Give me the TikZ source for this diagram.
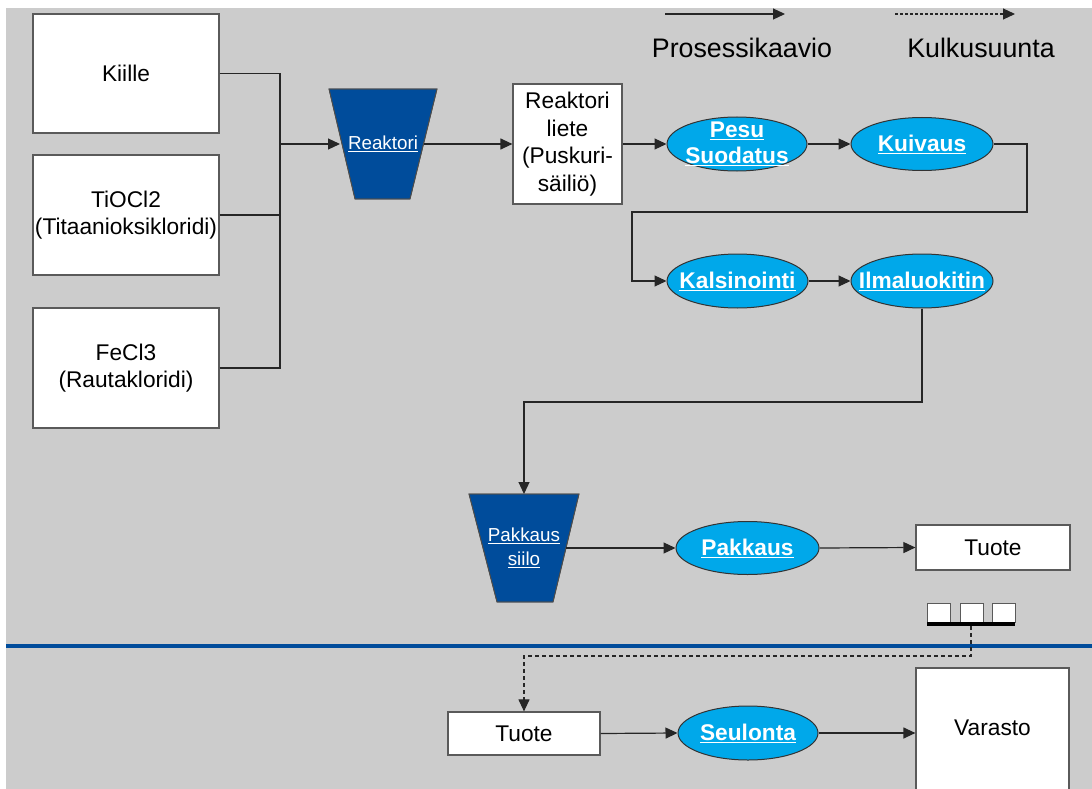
\documentclass[tikz,border=0pt]{standalone}
\usepackage{fontspec}
\setmainfont{Liberation Sans}
\usetikzlibrary{arrows.meta,shapes.geometric}
\definecolor{bggray}{RGB}{204,204,204}
\definecolor{darkblue}{RGB}{0,76,155}
\definecolor{cyanblue}{RGB}{0,168,234}
\definecolor{edgegray}{RGB}{90,90,90}
\tikzset{
  whitebox/.style={draw=edgegray, line width=1.2pt, fill=white, inner sep=0pt, align=center,
    font=\fontsize{22.7}{27.5}\selectfont},
  procell/.style={ellipse, draw=black!80, line width=1pt, fill=cyanblue, inner sep=0pt},
  proctext/.style={text=white, align=center, inner sep=0pt, font=\bfseries\fontsize{22.7}{26}\selectfont},
  hopper/.style={fill=darkblue, draw=black!70, line width=0.8pt},
  hoppertext/.style={text=white, align=center, font=\fontsize{18.8}{24}\selectfont},
  conn/.style={draw=black!85, line width=1.2pt},
  arr/.style={conn, -{Triangle[length=12pt,width=11pt]}},
  darr/.style={draw=black!85, line width=1.1pt, dash pattern=on 3pt off 2pt, -{Triangle[length=12pt,width=11pt]}},
  legtext/.style={font=\fontsize{26.8}{30}\selectfont},
  pallbox/.style={draw=edgegray, line width=1pt, fill=white, minimum width=23pt, minimum height=19pt, inner sep=0pt}
}
\begin{document}
\begin{tikzpicture}[x=1pt,y=-1pt]
\useasboundingbox (0,0) rectangle (1092,789);
\clip (0,0) rectangle (1092,789);
\fill[white] (0,0) rectangle (1092,789);
\fill[bggray] (6,8) rectangle (1092,789);

% legend
\coordinate (la) at (665,14); \coordinate (lb) at (785,14);
\coordinate (lc) at (895,14); \coordinate (ld) at (1015,14);
\draw[arr] (la) -- (lb);
\draw[darr] (lc) -- (ld);
\node[legtext] (leg1) at (742,48) {Prosessikaavio};
\node[legtext] (leg2) at (981,48) {Kulkusuunta};

% raw material boxes
\node[whitebox, minimum width=186pt, minimum height=119pt] (kiille) at (126,73.5) {Kiille};
\node[whitebox, minimum width=186pt, minimum height=120pt] (tiocl) at (126,215) {TiOCl2\\(Titaanioksikloridi)};
\node[whitebox, minimum width=186pt, minimum height=120pt] (fecl) at (126,368) {FeCl3\\(Rautakloridi)};

% reactor hopper
\fill[hopper] (329,89) -- (437,89) -- (410,199) -- (355,199) -- cycle;
\draw[draw=black!70, line width=0.8pt] (329,89) -- (437,89) -- (410,199) -- (355,199) -- cycle;
\node[hoppertext] (reak) at (383,144) {\underline{Reaktori}};
\coordinate (reakL) at (340,144);
\coordinate (reakR) at (424,144);

\coordinate (bus) at (280,144);
\draw[conn] (kiille.east) -| (bus);
\draw[conn] (fecl.east) -| (bus);
\draw[conn] (tiocl.east) -- (tiocl.east -| bus);
\draw[arr] (bus) -- (reakL);

\node[whitebox, minimum width=109pt, minimum height=120pt] (liete) at (567.5,144) {Reaktori\\liete\\(Puskuri-\\säiliö)};
\draw[arr] (reakR) -- (liete.west);

\node[procell, minimum width=140pt, minimum height=54pt] (pesu) at (737,144) {};
\node[proctext] (pesuT) at (pesu.center) {\underline{Pesu}\\\underline{Suodatus}};
\node[procell, minimum width=142pt, minimum height=53pt] (kuiv) at (922,144) {};
\node[proctext] (kuivT) at (kuiv.center) {\underline{Kuivaus}};
\draw[arr] (liete.east) -- (pesu.west);
\draw[arr] (pesu.east) -- (kuiv.west);

\node[procell, minimum width=141pt, minimum height=54pt] (kals) at (737.5,281) {};
\node[proctext] (kalsT) at (kals.center) {\underline{Kalsinointi}};
\node[procell, minimum width=142pt, minimum height=54pt] (ilma) at (922,281) {};
\node[proctext] (ilmaT) at (ilma.center) {\underline{Ilmaluokitin}};
\coordinate (t1) at (1027,212);
\coordinate (t2) at (632,212);
\draw[arr] (kuiv.east) -| (t1) -- (t2) |- (kals.west);
\draw[arr] (kals.east) -- (ilma.west);

% packing silo
\fill[hopper] (469,494) -- (579,494) -- (553,602) -- (497,602) -- cycle;
\draw[draw=black!70, line width=0.8pt] (469,494) -- (579,494) -- (553,602) -- (497,602) -- cycle;
\node[hoppertext] (siilo) at (524,548) {\underline{Pakkaus}\\\underline{siilo}};
\coordinate (siiloT) at (524,494);
\coordinate (siiloR) at (566,548);
\coordinate (t3) at (524,402);
\draw[arr] (ilma.south) |- (t3) -- (siiloT);

\node[procell, minimum width=143pt, minimum height=53pt] (pakk) at (747.5,548) {};
\node[proctext] (pakkT) at (pakk.center) {\underline{Pakkaus}};
\node[whitebox, minimum width=154pt, minimum height=45pt] (tuote1) at (993,547.5) {Tuote};
\draw[arr] (siiloR) -- (pakk.west);
\draw[arr] (pakk.east) -- (tuote1.west);

% pallet symbol
\node[pallbox] (p1) at (938.5,612.5) {};
\node[pallbox] (p2) at (971.5,612.5) {};
\node[pallbox] (p3) at (1004,612.5) {};
\node[fill=black, minimum width=88pt, minimum height=4pt, inner sep=0pt] (bar) at (971,624) {};

% separator line
\draw[darkblue, line width=4pt] (6,646) -- (1092,646);

% bottom row
\node[whitebox, minimum width=152pt, minimum height=43pt] (tuote2) at (524,733.5) {Tuote};
\node[procell, minimum width=140pt, minimum height=54pt] (seul) at (748,733) {};
\node[proctext] (seulT) at (seul.center) {\underline{Seulonta}};
\node[whitebox, minimum width=153pt, minimum height=130pt] (varasto) at (992.5,733) {};
\node[font=\fontsize{22.7}{27.5}\selectfont, inner sep=0pt] (varastoT) at (992.5,728) {Varasto};
\coordinate (t4) at (971,656);
\draw[darr, dash pattern=on 4pt off 3pt] (bar.south) |- (t4) -| (tuote2.north);
\draw[arr] (tuote2.east) -- (seul.west);
\draw[arr] (seul.east) -- (varasto.west);
\end{tikzpicture}
\end{document}
